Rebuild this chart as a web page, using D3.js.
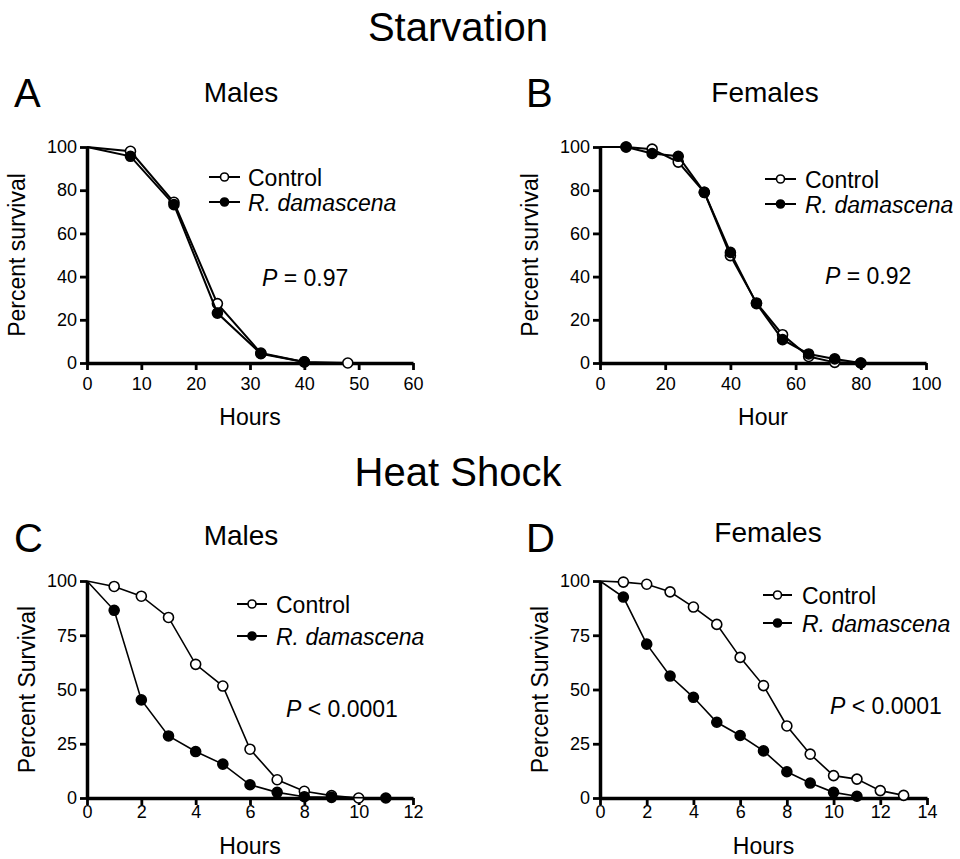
<!DOCTYPE html>
<html lang="en">
<head>
    <meta charset="UTF-8">
    <title>Starvation and Heat Shock survival</title>
    <script src="https://d3js.org/d3.v7.min.js"></script>
    <style>
        body {
            margin: 0;
            background: #fff;
            font-family: "Liberation Sans", Arial, Helvetica, sans-serif;
        }
        svg text { fill: #000; }
    </style>
</head>
<body>
    <div id="chart"></div>

    <script>
        // Starvation, males (A)
        const hoursA = [0, 8, 16, 24, 32, 40, 48];
        const controlA = [100, 98, 74.4, 27.5, 4.6, 0.5, 0];
        const hoursDamA = [0, 8, 16, 24, 32, 40];
        const damA = [100, 95.7, 73.3, 23.1, 4.3, 0.5];

        // Starvation, females (B)
        const hoursB = [0, 8, 16, 24, 32, 40, 48, 56, 64, 72, 80];
        const controlB = [100, 100, 99, 93, 79, 49.7, 27.8, 13.1, 3, 0.3, 0];
        const damB = [100, 100, 97, 95.7, 79, 51.2, 27.5, 10.8, 4.2, 1.9, 0];

        // Heat shock, males (C)
        const hoursC = [0, 1, 2, 3, 4, 5, 6, 7, 8, 9, 10];
        const controlC = [100, 97.5, 93, 83.2, 61.6, 51.6, 22.5, 8.4, 3.1, 1.1, 0];
        const hoursDamC = [0, 1, 2, 3, 4, 5, 6, 7, 8, 9, 11];
        const damC = [100, 86.5, 45.2, 28.6, 21.4, 15.6, 6.1, 2.6, 0.6, 0.3, 0];

        // Heat shock, females (D)
        const hoursD = [0, 1, 2, 3, 4, 5, 6, 7, 8, 9, 10, 11, 12, 13];
        const controlD = [100, 99.5, 98.5, 95, 88, 80, 64.8, 51.8, 33.2, 20.2, 10.3, 8.7, 3.4, 1.2];
        const hoursDamD = [0, 1, 2, 3, 4, 5, 6, 7, 8, 9, 10, 11];
        const damD = [100, 92.6, 70.9, 56.2, 46.4, 34.9, 28.8, 21.7, 12.1, 6.9, 2.6, 0.8];

        const ticksStarvation = [0, 20, 40, 60, 80, 100];
        const ticksHeat = [0, 25, 50, 75, 100];
        const seriesNames = ["Control", "R. damascena"];

        const width = 960, height = 859;

        const svg = d3.select("#chart")
            .append("svg")
            .attr("width", width)
            .attr("height", height);

        const panels = [
            {letter: "A", title: "Males", xMax: 60, xStep: 10, yTicks: ticksStarvation,
             xLabel: "Hours", yLabel: "Percent survival", p: "0.97", pSign: "=",
             ctrl: [hoursA, controlA], dam: [hoursDamA, damA],
             box: [87, 413, 147, 363], letterPos: [14, 107], titlePos: [241, 102],
             labelGap: 15, xTitleY: 425, yTitleX: 25,
             legend: [209, 240, 248, 177, 25], pPos: [262, 286], lw: 2},
            {letter: "B", title: "Females", xMax: 100, xStep: 20, yTicks: ticksStarvation,
             xLabel: "Hour", yLabel: "Percent survival", p: "0.92", pSign: "=",
             ctrl: [hoursB, controlB], dam: [hoursB, damB],
             box: [600, 926, 147, 363], letterPos: [526, 107], titlePos: [765, 102],
             labelGap: 15, xTitleY: 425, yTitleX: 538,
             legend: [765, 796, 805, 179, 25], pPos: [825, 284], lw: 2},
            {letter: "C", title: "Males", xMax: 12, xStep: 2, yTicks: ticksHeat,
             xLabel: "Hours", yLabel: "Percent Survival", p: "0.0001", pSign: "<",
             ctrl: [hoursC, controlC], dam: [hoursDamC, damC],
             box: [87, 413, 581, 798], letterPos: [14, 552], titlePos: [241, 545],
             labelGap: 8, xTitleY: 854, yTitleX: 35,
             legend: [237, 267, 276, 604, 32], pPos: [286, 717], lw: 1.6},
            {letter: "D", title: "Females", xMax: 14, xStep: 2, yTicks: ticksHeat,
             xLabel: "Hours", yLabel: "Percent Survival", p: "0.0001", pSign: "<",
             ctrl: [hoursD, controlD], dam: [hoursDamD, damD],
             box: [600, 927, 581, 798], letterPos: [526, 552], titlePos: [768, 542],
             labelGap: 8, xTitleY: 854, yTitleX: 548,
             legend: [763, 792, 802, 595, 28], pPos: [830, 714], lw: 1.6}
        ];

        // section headings
        svg.append("text").attr("x", 458).attr("y", 41)
            .attr("text-anchor", "middle").attr("font-size", 40).text("Starvation");
        svg.append("text").attr("x", 458).attr("y", 486)
            .attr("text-anchor", "middle").attr("font-size", 40).text("Heat Shock");

        panels.forEach(cfg => {
            const [x0, x1, yTop, yBot] = cfg.box;
            const x = d3.scaleLinear().domain([0, cfg.xMax]).range([x0, x1]);
            const y = d3.scaleLinear().domain([0, 100]).range([yBot, yTop]);
            const g = svg.append("g");

            svg.append("text").attr("x", cfg.letterPos[0]).attr("y", cfg.letterPos[1])
                .attr("font-size", 40).text(cfg.letter);
            svg.append("text").attr("x", cfg.titlePos[0]).attr("y", cfg.titlePos[1])
                .attr("text-anchor", "middle").attr("font-size", 28).text(cfg.title);

            // axes
            const xAxis = g.append("g")
                .attr("transform", `translate(0,${yBot})`)
                .call(d3.axisBottom(x)
                    .tickValues(d3.range(0, cfg.xMax + 0.01, cfg.xStep))
                    .tickSize(7).tickSizeOuter(0).tickPadding(cfg.labelGap - 8));
            const yAxis = g.append("g")
                .attr("transform", `translate(${x0},0)`)
                .call(d3.axisLeft(y).tickValues(cfg.yTicks)
                    .tickSize(7).tickSizeOuter(0).tickPadding(3));

            [xAxis, yAxis].forEach(ax => {
                ax.select(".domain").attr("stroke", "#000").attr("stroke-width", 3.5);
                ax.selectAll(".tick line").attr("stroke", "#000").attr("stroke-width", 2.8);
                ax.selectAll(".tick text")
                    .attr("font-family", "'Liberation Sans', Arial, sans-serif")
                    .attr("font-size", 18).attr("fill", "#111");
            });

            g.append("text").attr("x", (x0 + x1) / 2).attr("y", cfg.xTitleY)
                .attr("text-anchor", "middle").attr("font-size", 23).text(cfg.xLabel);
            g.append("text")
                .attr("transform", `translate(${cfg.yTitleX},${(yTop + yBot) / 2}) rotate(-90)`)
                .attr("text-anchor", "middle").attr("font-size", 23).text(cfg.yLabel);

            const line = d3.line().x(d => x(d[0])).y(d => y(d[1]));
            const series = [
                {pts: d3.zip(cfg.ctrl[0], cfg.ctrl[1]), fill: "#fff"},
                {pts: d3.zip(cfg.dam[0], cfg.dam[1]), fill: "#000"}
            ];

            series.forEach(s => {
                g.append("path").datum(s.pts)
                    .attr("d", line)
                    .attr("fill", "none")
                    .attr("stroke", "#000")
                    .attr("stroke-width", cfg.lw);
                g.selectAll(null)
                    .data(s.pts.filter(d => d[0] > 0))
                    .join("circle")
                    .attr("cx", d => x(d[0]))
                    .attr("cy", d => y(d[1]))
                    .attr("r", 5)
                    .attr("fill", s.fill)
                    .attr("stroke", "#000")
                    .attr("stroke-width", 1.6);
            });

            // legend
            const [lx0, lx1, tx, ly, step] = cfg.legend;
            seriesNames.forEach((name, i) => {
                const yy = ly + i * step;
                g.append("line").attr("x1", lx0).attr("x2", lx1)
                    .attr("y1", yy).attr("y2", yy)
                    .attr("stroke", "#000").attr("stroke-width", 2);
                g.append("circle").attr("cx", (lx0 + lx1) / 2).attr("cy", yy).attr("r", 4)
                    .attr("fill", i === 0 ? "#fff" : "#000")
                    .attr("stroke", "#000").attr("stroke-width", 1.6);
                g.append("text").attr("x", tx).attr("y", yy + 8.5)
                    .attr("font-size", 23)
                    .attr("font-style", i === 1 ? "italic" : "normal")
                    .text(name);
            });

            const pText = g.append("text").attr("x", cfg.pPos[0]).attr("y", cfg.pPos[1])
                .attr("font-size", 23);
            pText.append("tspan").attr("font-style", "italic").text("P");
            pText.append("tspan").text(` ${cfg.pSign} ${cfg.p}`);
        });
    </script>
</body>
</html>
